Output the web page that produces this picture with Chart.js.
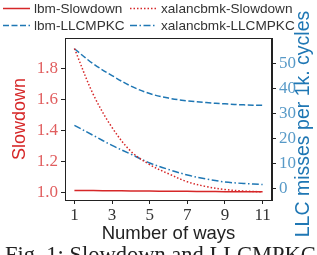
<!DOCTYPE html>
<html>
<head>
<meta charset="utf-8">
<script src="https://cdn.jsdelivr.net/npm/chart.js@4.4.0/dist/chart.umd.min.js"></script>
<style>
  html, body { margin: 0; padding: 0; background: #fff; overflow: hidden; }
</style>
</head>
<body>
<canvas id="myChart" width="317" height="255"></canvas>
<script>
// Dados
const ways = [1, 2, 3, 4, 5, 6, 7, 8, 9, 10, 11];
const lbmSlowdown = [1.012, 1.011, 1.010, 1.009, 1.008, 1.007, 1.006, 1.005, 1.004, 1.004, 1.003];
const xalancSlowdown = [1.932, 1.635, 1.42, 1.266, 1.179, 1.12, 1.068, 1.037, 1.018, 1.008, 1.003];
const lbmMpkc = [55.7, 49.7, 45.0, 40.8, 37.8, 36.0, 34.9, 34.2, 33.7, 33.3, 33.1];
const xalancMpkc = [25.1, 21.1, 17.1, 13.6, 10.1, 7.5, 5.3, 3.7, 2.5, 1.9, 1.5];

const xTicks = [1, 3, 5, 7, 9, 11];
const slowTicks = [1.0, 1.2, 1.4, 1.6, 1.8];
const mpkcTicks = [0, 10, 20, 30, 40, 50];

const RED = '#d62728';
const BLUE = '#1f77b4';
const SANS = '"Liberation Sans", Arial, sans-serif';
const SERIF = '"Liberation Serif", "DejaVu Serif", serif';

function pts(ys) {
    return ways.map((x, i) => ({ x: x, y: ys[i] }));
}

const data = {
    datasets: [
        { label: 'lbm-Slowdown', data: pts(lbmSlowdown), yAxisID: 'y', borderColor: RED, borderDash: [] },
        { label: 'xalancbmk-Slowdown', data: pts(xalancSlowdown), yAxisID: 'y', borderColor: RED, borderDash: [1.5, 2] },
        { label: 'lbm-LLCMPKC', data: pts(lbmMpkc), yAxisID: 'y2', borderColor: BLUE, borderDash: [6, 2.5] },
        { label: 'xalancbmk-LLCMPKC', data: pts(xalancMpkc), yAxisID: 'y2', borderColor: BLUE, borderDash: [7, 2.5, 1.5, 2.5] }
    ]
};

// legenda, moldura e legenda da figura
const extras = {
    id: 'extras',
    afterDraw(chart) {
        const ctx = chart.ctx;
        const a = chart.chartArea;
        ctx.save();
        ctx.strokeStyle = '#222';
        ctx.lineWidth = 1;
        ctx.strokeRect(a.left + 0.5, a.top + 0.5, a.right - a.left - 1, a.bottom - a.top);

        // legenda em duas colunas
        const slots = [[3, 8], [130, 8], [3, 25], [130, 25]];
        ctx.font = '13.6px ' + SANS;
        ctx.textBaseline = 'middle';
        chart.data.datasets.forEach((ds, k) => {
            const [x, y] = slots[k];
            ctx.strokeStyle = ds.borderColor;
            ctx.lineWidth = 1.5;
            ctx.setLineDash(ds.borderDash);
            ctx.beginPath();
            ctx.moveTo(x, y + 0.5);
            ctx.lineTo(x + 27, y + 0.5);
            ctx.stroke();
            ctx.setLineDash([]);
            ctx.fillStyle = '#333';
            ctx.fillText(ds.label, x + 31, y + 1);
        });

        // titulo do eixo direito (de baixo para cima)
        ctx.save();
        ctx.translate(304, 124);
        ctx.rotate(-Math.PI / 2);
        ctx.font = '19.5px ' + SANS;
        ctx.fillStyle = BLUE;
        ctx.textAlign = 'center';
        ctx.textBaseline = 'middle';
        ctx.fillText('LLC misses per 1k. cycles', 0, 0);
        ctx.restore();

        ctx.font = '22.5px ' + SERIF;
        ctx.fillStyle = '#222';
        ctx.textAlign = 'left';
        ctx.textBaseline = 'top';
        ctx.fillText('Fig. 1: Slowdown and LLCMPKC', 5, 245);
        ctx.restore();
    }
};

const options = {
    responsive: false,
    animation: false,
    devicePixelRatio: 1,
    layout: { padding: { top: 38, left: 0, right: 0, bottom: 0 } },
    elements: {
        line: { borderWidth: 1.5, tension: 0.35, fill: false },
        point: { radius: 0 }
    },
    plugins: { legend: { display: false }, tooltip: { enabled: false } },
    scales: {
        x: {
            type: 'linear',
            position: 'bottom',
            min: 0.5,
            max: 11.5,
            afterFit: s => { s.height = 55; },
            afterBuildTicks: s => { s.ticks = xTicks.map(v => ({ value: v })); },
            grid: { drawOnChartArea: false, tickLength: 4, color: '#222' },
            border: { color: '#222' },
            ticks: { font: { family: SERIF, size: 17 }, color: '#333', padding: 1, maxRotation: 0, autoSkip: false },
            title: { display: true, text: 'Number of ways', color: '#222', font: { family: SANS, size: 18.5 }, padding: { top: 0, bottom: 10 } }
        },
        y: {
            position: 'left',
            min: 0.95,
            max: 2.0,
            afterFit: s => { s.width = 65; },
            afterBuildTicks: s => { s.ticks = slowTicks.map(v => ({ value: v })); },
            grid: { drawOnChartArea: false, tickLength: 4, color: '#222' },
            border: { color: '#222' },
            ticks: { font: { family: SERIF, size: 17 }, color: 'rgba(214,39,40,0.75)', padding: 3, callback: v => v.toFixed(1) },
            title: { display: true, text: 'Slowdown', color: RED, font: { family: SANS, size: 18 }, padding: { top: 9 } }
        },
        y2: {
            position: 'right',
            min: -4.7,
            max: 60,
            afterFit: s => { s.width = 45; },
            afterBuildTicks: s => { s.ticks = mpkcTicks.map(v => ({ value: v })); },
            grid: { drawOnChartArea: false, tickLength: 4, color: '#222' },
            border: { color: '#222' },
            ticks: { font: { family: SERIF, size: 17 }, color: 'rgba(31,119,180,0.75)', padding: 3 }
        }
    }
};

const ctx = document.getElementById('myChart').getContext('2d');
const myChart = new Chart(ctx, {
    type: 'line',
    data: data,
    options: options,
    plugins: [extras]
});
</script>
</body>
</html>
